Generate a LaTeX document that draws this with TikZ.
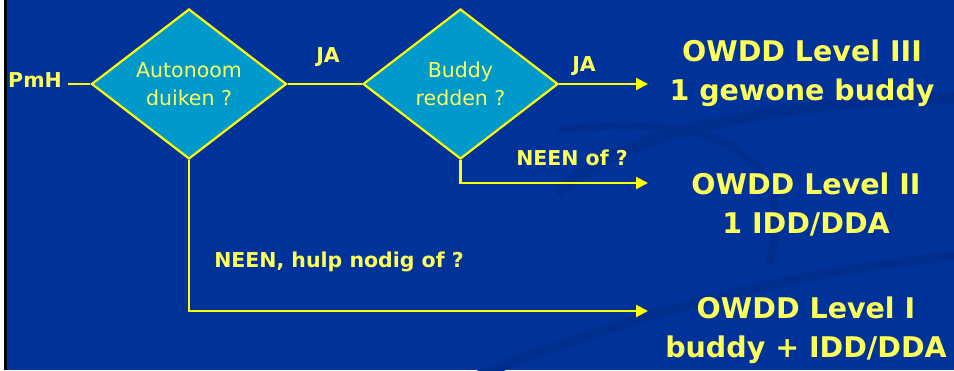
\documentclass[tikz,border=0pt]{standalone}
\usepackage{fontspec}
\setmainfont{DejaVu Sans}
\usetikzlibrary{shapes.geometric,arrows.meta}
\definecolor{bgblue}{RGB}{0,51,153}
\definecolor{swirl}{RGB}{0,46,142}
\definecolor{dmfill}{RGB}{0,153,204}
\definecolor{lnyel}{RGB}{255,255,0}
\definecolor{txyel}{RGB}{255,255,90}
\begin{document}
\begin{tikzpicture}[x=1pt,y=-1pt]
\tikzstyle{every node}+=[inner sep=0pt, text=txyel]
\tikzstyle{lbl}=[font=\bfseries\fontsize{20.5}{22}\selectfont]
\tikzstyle{res}=[font=\bfseries\fontsize{28.5}{39}\selectfont, align=center]
\tikzstyle{dec}=[diamond, draw=lnyel, line width=2.2pt, fill=dmfill, minimum width=195pt, minimum height=150pt, align=center, font=\fontsize{20.5}{28}\selectfont]
\tikzstyle{ln}=[lnyel, line width=2.2pt]
\tikzstyle{arr}=[ln, -{Triangle[length=12pt,width=12pt]}]
% background
\useasboundingbox (0,0) rectangle (954,370);
\fill [white] (0,0) rectangle (954,370);
\fill [black] (4,0) rectangle (7,370);
\fill [bgblue] (6.5,0) rectangle (954,370);
\begin{scope}
\clip (6.5,0) rectangle (954,370);
\draw [swirl, line width=12pt, line cap=round] (560,190) .. controls (640,120) and (820,100) .. (960,98);
\draw [swirl, line width=8pt, line cap=round] (560,130) .. controls (720,110) and (800,160) .. (770,260);
\draw [swirl, line width=10pt] (420,400) .. controls (650,300) and (820,270) .. (960,255);
\end{scope}
% decisions
\node [dec] (auto) at (189,84) {Autonoom\\duiken ?};
\node [dec] (buddy) at (460.5,84) {Buddy\\redden ?};
% results
\node [res] (lvl3) at (802,73.5) {OWDD Level III\\1 gewone buddy};
\node [res] (lvl2) at (806,204) {OWDD Level II\\1 IDD/DDA};
\node [res] (lvl1) at (806,330.5) {OWDD Level I\\buddy + IDD/DDA};
% labels
\node [lbl] (pmh) at (35,80) {PmH};
\node [lbl] (ja1) at (328,57) {JA};
\node [lbl] (ja2) at (584,66) {JA};
\node [lbl] (neen2) at (572,158) {NEEN of ?};
\node [lbl] (neen1) at (339,262) {NEEN, hulp nodig of ?};
% connectors
\coordinate (pmhe) at (68,84);
\coordinate (tip3) at (648,84);
\coordinate (tip2) at (648,183);
\coordinate (tip1) at (648,311);
\draw [ln] (pmhe) -- (auto.west);
\draw [ln] (auto.east) -- (buddy.west);
\draw [arr] (buddy.east) -- (tip3);
\draw [arr] (buddy.south) |- (tip2);
\draw [arr] (auto.south) |- (tip1);
\end{tikzpicture}
\end{document}
